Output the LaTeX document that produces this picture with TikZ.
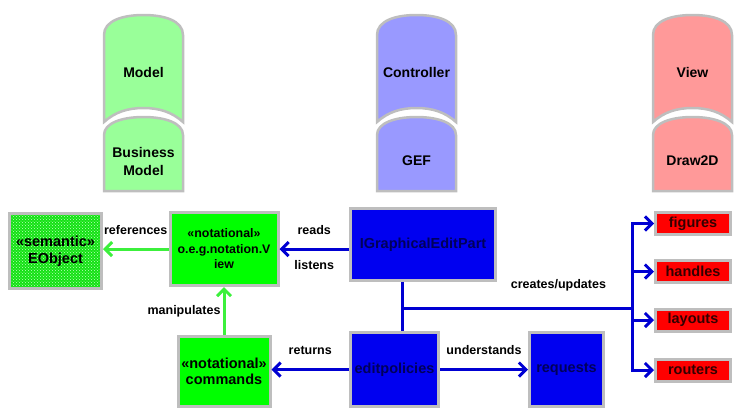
\documentclass[tikz,border=0pt]{standalone}
\usepackage{fontspec}
\setmainfont{Liberation Sans}
\usetikzlibrary{positioning, arrows.meta, patterns}
\definecolor{modelFill}{RGB}{153,255,153}
\definecolor{ctrlFill}{RGB}{153,153,255}
\definecolor{viewFill}{RGB}{255,153,153}
\definecolor{frameGray}{RGB}{190,190,190}
\definecolor{notGreen}{RGB}{0,255,0}
\definecolor{semGreen}{RGB}{20,225,20}
\definecolor{semDots}{RGB}{190,255,190}
\definecolor{partBlue}{RGB}{0,0,240}
\definecolor{lineBlue}{RGB}{0,0,210}
\definecolor{lineGreen}{RGB}{60,240,60}
\definecolor{navyText}{RGB}{0,0,90}
\tikzstyle{layer}=[draw=frameGray, line width=2.5pt]
\tikzstyle{layerText}=[font=\bfseries\fontsize{14}{18}\selectfont, align=center]
\tikzstyle{box}=[draw=frameGray, line width=3pt, inner sep=1pt, align=center,
  font=\bfseries\fontsize{14.5}{16.5}\selectfont]
\tikzstyle{notBox}=[box, fill=notGreen]
\tikzstyle{semBox}=[box, preaction={fill=semGreen}, pattern=crosshatch dots, pattern color=semDots]
\tikzstyle{partBox}=[box, fill=partBlue, text=navyText]
\tikzstyle{viewBox}=[box, fill=red, text=black!80!red]
\tikzstyle{greenArrow}=[-{Straight Barb[length=7pt, width=14pt]}, line width=3pt, draw=lineGreen]
\tikzstyle{blueLine}=[line width=3pt, draw=lineBlue]
\tikzstyle{blueArrow}=[blueLine, -{Straight Barb[length=7pt, width=14pt]}]
\tikzstyle{lbl}=[font=\bfseries\fontsize{12.5}{14}\selectfont, inner sep=0pt]

\begin{document}
\begin{tikzpicture}[x=1pt, y=-1pt]
  \useasboundingbox (0,0) rectangle (742,416);

  % layers
  \foreach \x/\fillc/\topText/\botText/\id in
      {104/modelFill/Model/{Business\\Model}/m,
       377/ctrlFill/Controller/GEF/c,
       653/viewFill/View/Draw2D/v} {
    \path[layer, fill=\fillc] (\x,122) -- (\x,35)
      .. controls (\x,21) and (\x+18,15) .. (\x+39.5,15)
      .. controls (\x+61,15) and (\x+79,21) .. (\x+79,35) -- (\x+79,122)
      .. controls (\x+68,112) and (\x+55,108) .. (\x+39.5,108)
      .. controls (\x+24,108) and (\x+11,112) .. (\x,122) -- cycle;
    \path[layer, fill=\fillc] (\x,191) -- (\x,135)
      .. controls (\x,123) and (\x+18,117) .. (\x+39.5,117)
      .. controls (\x+61,117) and (\x+79,123) .. (\x+79,135) -- (\x+79,191) -- cycle;
    \node[layerText] (top\id) at (\x+39.5,72) {\topText};
    \node[layerText] (bot\id) at (\x+39.5,161) {\botText};
  }

  % boxes
  \node[semBox, minimum width=92pt, minimum height=75pt] (semantic) at (55.5,251) {«semantic»\\EObject};
  \node[notBox, minimum width=108pt, minimum height=73pt, font=\bfseries\fontsize{12.4}{15.5}\selectfont]
    (notView) at (224,249) {«notational»\\o.e.g.notation.V\\iew};
  \node[notBox, minimum width=92pt, minimum height=70pt] (commands) at (224,371.5) {«notational»\\commands};
  \node[partBox, minimum width=145pt, minimum height=72pt] (graphPart) at (423,244.5) {IGraphicalEditPart};
  \node[partBox, minimum width=88pt, minimum height=74pt] (editPolicies) at (394.5,369.5) {editpolicies};
  \node[partBox, minimum width=74pt, minimum height=74pt] (requests) at (566.5,369.5) {requests};
  \foreach \name/\y in {figures/223.5, handles/271.5, layouts/320, routers/370}
    \node[viewBox, minimum width=75pt, minimum height=22pt] (\name) at (693,\y) {\name};

  % connectors
  \draw[greenArrow] (notView.west) -- node[lbl, above=13pt] (refLbl) {references} (notView.west -| semantic.east);
  \draw[greenArrow] (commands.north) -- node[lbl, left=2pt] (manipLbl) {manipulates} (notView.south);
  \draw[blueArrow] (graphPart.west |- notView.east) -- node[lbl, above=13pt] (readsLbl) {reads}
    node[lbl, below=10pt] (listensLbl) {listens} (notView.east);
  \draw[blueArrow] (editPolicies.west) -- node[lbl, above=13pt] (returnsLbl) {returns} (editPolicies.west -| commands.east);
  \draw[blueArrow] (editPolicies.east) -- node[lbl, above=13pt] (underLbl) {understands} (requests.west);

  \coordinate (junction) at (402,308);
  \coordinate (bus) at (632,308);
  \draw[blueLine] (graphPart.south -| junction) -- (editPolicies.north -| junction);
  \draw[blueLine] (junction) -- node[lbl, above=15pt, pos=0.68] (createLbl) {creates/updates} (bus);
  \draw[blueLine, line cap=rect] (bus |- figures) -- (bus |- routers);
  \foreach \name in {figures, handles, layouts, routers}
    \draw[blueArrow] (bus |- \name) -- (\name.west);
\end{tikzpicture}
\end{document}
